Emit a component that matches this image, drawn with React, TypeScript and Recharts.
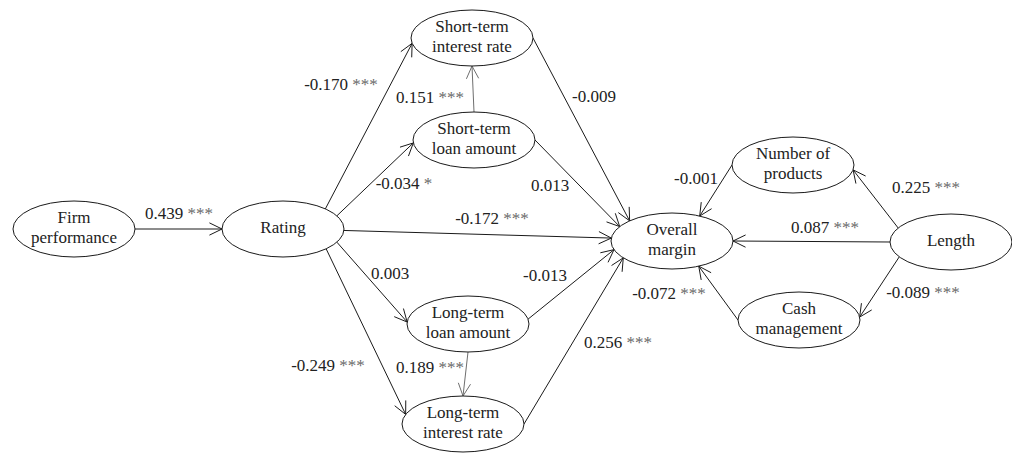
import React from 'react'
import { ScatterChart, Scatter, XAxis, YAxis, ReferenceLine } from 'recharts'

// nodes of the path model (centre position in picture units)
const NODES = [
  { id: 'firm', name: 'Firm\nperformance', x: 74, y: 229 },
  { id: 'rating', name: 'Rating', x: 283, y: 229 },
  { id: 'stInt', name: 'Short-term\ninterest rate', x: 472, y: 38 },
  { id: 'stLoan', name: 'Short-term\nloan amount', x: 474, y: 140 },
  { id: 'ltLoan', name: 'Long-term\nloan amount', x: 468, y: 324 },
  { id: 'ltInt', name: 'Long-term\ninterest rate', x: 463, y: 424 },
  { id: 'overall', name: 'Overall\nmargin', x: 672, y: 241 },
  { id: 'products', name: 'Number of\nproducts', x: 793, y: 165 },
  { id: 'length', name: 'Length', x: 951, y: 242 },
  { id: 'cash', name: 'Cash\nmanagement', x: 799, y: 320 },
]

// paths: from, to, coefficient, significance stars
const EDGE_FROM = ['firm', 'rating', 'rating', 'stLoan', 'rating', 'rating', 'rating', 'ltLoan', 'stInt', 'stLoan', 'ltLoan', 'ltInt', 'products', 'length', 'length', 'length', 'cash']
const EDGE_TO = ['rating', 'stInt', 'stLoan', 'stInt', 'overall', 'ltLoan', 'ltInt', 'ltInt', 'overall', 'overall', 'overall', 'overall', 'overall', 'products', 'overall', 'cash', 'overall']
const EDGE_COEF = ['0.439', '-0.170', '-0.034', '0.151', '-0.172', '0.003', '-0.249', '0.189', '-0.009', '0.013', '-0.013', '0.256', '-0.001', '0.225', '0.087', '-0.089', '-0.072']
const EDGE_SIG = ['***', '***', '*', '***', '***', '', '***', '***', '', '', '', '***', '', '***', '***', '***', '***']

// layout: where each path leaves / enters its ellipse (degrees), and where its label sits
const PORT_OUT = [0, -46, -28, -90, 3, 28, 45, 90, 0, 0, -10, 0, 180, 210, 180, 148, 180]
const PORT_IN = [180, 169, 174, 90, 186, 184, 200, -90, 226, 211, 162, 143, 297, 10, 0, -6, 64]
const LABEL_AT = [
  [179, 213], [341, 84], [404, 183], [430, 97], [492, 218], [390, 273], [328, 365], [430, 367],
  [594, 96], [550, 185], [545, 275], [618, 342], [696, 178], [926, 187], [825, 227], [923, 292], [669, 293],
]

const RX = 61
const RY = 28
const FONT = 'Liberation Serif'

const nodeById = (id: string) => NODES.find((n) => n.id === id)!

const port = (id: string, deg: number) => {
  const n = nodeById(id)
  const a = (deg * Math.PI) / 180
  return { x: n.x + RX * Math.cos(a), y: n.y + RY * Math.sin(a) }
}

const edges = EDGE_FROM.map((from, i) => ({
  from,
  to: EDGE_TO[i],
  start: port(from, PORT_OUT[i]),
  end: port(EDGE_TO[i], PORT_IN[i]),
  vertical: Math.abs(PORT_OUT[i]) === 90,
}))

const labels = EDGE_COEF.map((coef, i) => ({
  x: LABEL_AT[i][0],
  y: LABEL_AT[i][1],
  coef,
  sig: EDGE_SIG[i],
}))

function makeArrow(color: string) {
  return (props: any) => {
    const { x1, y1, x2, y2 } = props
    const ang = Math.atan2(y2 - y1, x2 - x1)
    const len = 14
    const spread = (26 * Math.PI) / 180
    const ax = x2 - len * Math.cos(ang - spread)
    const ay = y2 - len * Math.sin(ang - spread)
    const bx = x2 - len * Math.cos(ang + spread)
    const by = y2 - len * Math.sin(ang + spread)
    return (
      <g>
        <line x1={x1} y1={y1} x2={x2} y2={y2} stroke={color} strokeWidth={1} />
        <polyline points={`${ax},${ay} ${x2},${y2} ${bx},${by}`} fill="none" stroke={color} strokeWidth={1} />
      </g>
    )
  }
}

const blackArrow = makeArrow('#1a1a1a')
const greyArrow = makeArrow('#6e6e6e')

function NodeShape(props: any) {
  const { cx, cy, payload } = props
  const lines: string[] = payload.name.split('\n')
  const gap = 20
  const top = cy - ((lines.length - 1) * gap) / 2 - 2
  return (
    <g>
      <ellipse cx={cx} cy={cy} rx={RX} ry={RY} fill="#fff" stroke="#1a1a1a" strokeWidth={1} />
      {lines.map((l, i) => (
        <text
          key={i}
          x={cx}
          y={top + i * gap + 6}
          textAnchor="middle"
          fontSize={17}
          style={{ fontFamily: FONT }}
          fill="#222"
        >
          {l}
        </text>
      ))}
    </g>
  )
}

function LabelShape(props: any) {
  const { cx, cy, payload } = props
  return (
    <text x={cx} y={cy + 6} textAnchor="middle" fontSize={17} style={{ fontFamily: FONT }} fill="#222">
      <tspan>{payload.coef}</tspan>
      {payload.sig ? <tspan fill="#6a6a6a">{' ' + payload.sig}</tspan> : null}
    </text>
  )
}

export default function App() {
  return (
    <div style={{ width: 1012, height: 453, background: '#fff' }}>
      <style>{'body{margin:0;background:#fff}'}</style>
      <ScatterChart width={1012} height={453} margin={{ top: 0, right: 0, bottom: 0, left: 0 }}>
        <XAxis type="number" dataKey="x" domain={[0, 1012]} hide />
        <YAxis type="number" dataKey="y" domain={[0, 453]} reversed hide />
        {edges.map((e, i) => (
          <ReferenceLine
            key={i}
            segment={[
              { x: e.start.x, y: e.start.y },
              { x: e.end.x, y: e.end.y },
            ]}
            ifOverflow="visible"
            shape={e.vertical ? greyArrow : blackArrow}
          />
        ))}
        <Scatter data={NODES} shape={NodeShape} isAnimationActive={false} />
        <Scatter data={labels} shape={LabelShape} isAnimationActive={false} />
      </ScatterChart>
    </div>
  )
}
